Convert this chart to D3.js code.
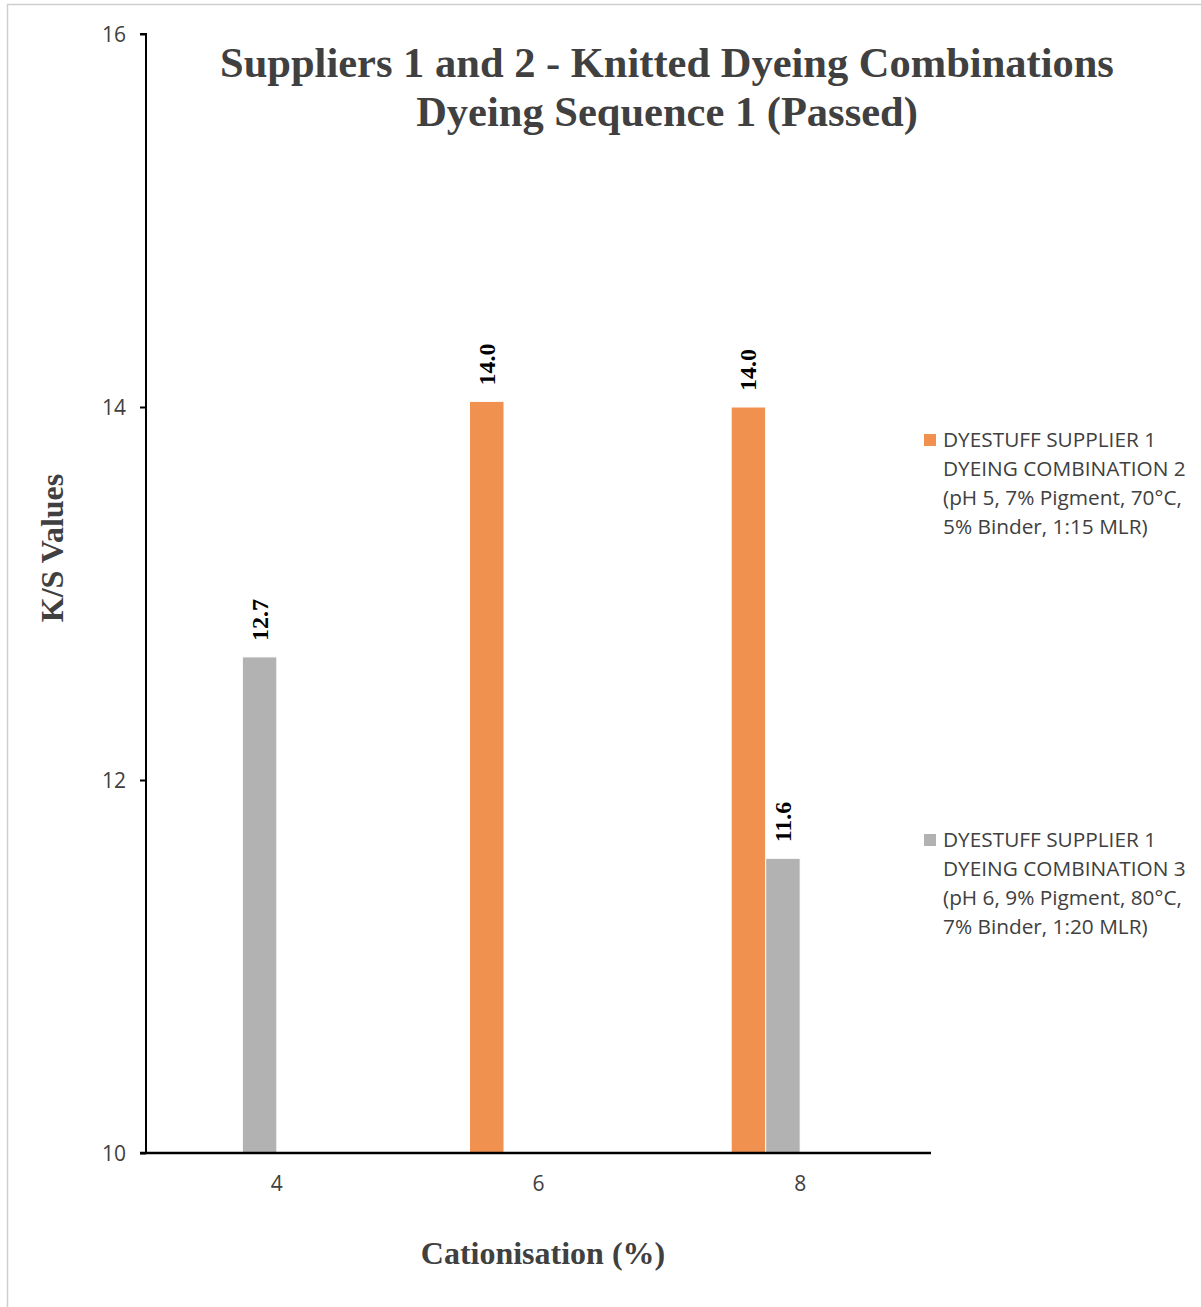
<!DOCTYPE html>
<html>
<head>
<meta charset="utf-8">
<script src="https://cdn.jsdelivr.net/npm/d3@7"></script>
<style>
  html, body { margin: 0; padding: 0; background: #fff; }
  svg { display: block; }
</style>
</head>
<body>
<svg id="chart" width="1201" height="1307"></svg>
<script>
// Cationisation levels (%) on the x axis
const categories = ["4", "6", "8"];

// K/S values per dyeing combination (null = below the axis range / not plotted)
const combination2Values = [null, 14.03, 14.00];
const combination3Values = [12.66, null, 11.58];

const seriesNames = [
  "DYESTUFF SUPPLIER 1 DYEING COMBINATION 2 (pH 5, 7% Pigment, 70°C, 5% Binder, 1:15 MLR)",
  "DYESTUFF SUPPLIER 1 DYEING COMBINATION 3 (pH 6, 9% Pigment, 80°C, 7% Binder, 1:20 MLR)"
];
const legendLines = [
  ["DYESTUFF SUPPLIER 1", "DYEING COMBINATION 2", "(pH 5, 7% Pigment, 70°C,", "5% Binder, 1:15 MLR)"],
  ["DYESTUFF SUPPLIER 1", "DYEING COMBINATION 3", "(pH 6, 9% Pigment, 80°C,", "7% Binder, 1:20 MLR)"]
];
const yTicks = [10, 12, 14, 16];
const titleLines = ["Suppliers 1 and 2 - Knitted Dyeing Combinations", "Dyeing Sequence 1 (Passed)"];

const colors = ["#f09150", "#b2b2b2"];
const serif = "'Liberation Serif', 'Times New Roman', serif";
const sans = "'Open Sans', 'Noto Sans', sans-serif";

const series = [
  { name: seriesNames[0], values: combination2Values, color: colors[0] },
  { name: seriesNames[1], values: combination3Values, color: colors[1] }
];

const svg = d3.select("#chart");

// outer chart frame
svg.append("rect")
  .attr("x", 7.5).attr("y", 4.5)
  .attr("width", 1210).attr("height", 1320)
  .attr("fill", "none").attr("stroke", "#cfcfcf").attr("stroke-width", 1.5);

const plot = { left: 146, right: 931, top: 34, bottom: 1153 };

const x = d3.scaleBand().domain(categories).range([plot.left, plot.right]).padding(0);
const y = d3.scaleLinear().domain([10, 16]).range([plot.bottom, plot.top]);

// bars sit side by side, ending at the category centre
const barW = 34.5;
const xInner = d3.scaleBand().domain(series.map(s => s.name))
  .range([x.bandwidth() / 2 - 2 * barW, x.bandwidth() / 2]).padding(0);

// y axis
const yAxis = d3.axisLeft(y).tickValues(yTicks).tickSize(6).tickFormat(d3.format("d"));
const gy = svg.append("g").attr("transform", `translate(${plot.left},0)`).call(yAxis);
gy.select(".domain").attr("stroke", "#000").attr("stroke-width", 2)
  .attr("d", `M-6,${plot.top}H0V${plot.bottom}`);
gy.selectAll(".tick line").attr("stroke", "#000").attr("stroke-width", 2);
gy.selectAll(".tick text")
  .attr("x", -20).attr("dy", "0.35em")
  .attr("fill", "#404040").style("font-family", sans).style("font-size", "21px");

// bars
series.forEach(s => {
  const g = svg.append("g");
  const data = categories.map((c, i) => ({ c, v: s.values[i] })).filter(d => d.v != null);
  g.selectAll("rect").data(data).join("rect")
    .attr("x", d => x(d.c) + xInner(s.name))
    .attr("width", xInner.bandwidth())
    .attr("y", d => y(d.v))
    .attr("height", d => y(10) - y(d.v))
    .attr("fill", s.color)
    .attr("stroke", "#fff").attr("stroke-width", 1);

  g.selectAll("text").data(data).join("text")
    .attr("transform", d => `translate(${x(d.c) + xInner(s.name) + xInner.bandwidth() / 2 + 8},${y(d.v) - 16}) rotate(-90)`)
    .attr("text-anchor", "start")
    .attr("fill", "#000")
    .style("font-family", serif).style("font-weight", "bold").style("font-size", "24px")
    .text(d => d.v.toFixed(1));
});

// x axis
const xAxis = d3.axisBottom(x).tickSize(0);
const gx = svg.append("g").attr("transform", `translate(0,${plot.bottom})`).call(xAxis);
gx.select(".domain").attr("stroke", "#000").attr("stroke-width", 2.5)
  .attr("d", `M${plot.left - 6},0H${plot.right}`);
gx.selectAll(".tick text")
  .attr("y", 23).attr("dy", "0.71em")
  .attr("fill", "#404040").style("font-family", sans).style("font-size", "21px");

// title
const title = svg.append("text")
  .attr("text-anchor", "middle").attr("fill", "#404040")
  .style("font-family", serif).style("font-weight", "bold").style("font-size", "42.5px");
titleLines.forEach((t, i) => {
  title.append("tspan").attr("x", 667).attr("y", 77 + i * 49).text(t);
});

// axis titles
svg.append("text")
  .attr("transform", `translate(63,548) rotate(-90)`)
  .attr("text-anchor", "middle").attr("fill", "#404040")
  .style("font-family", serif).style("font-weight", "bold").style("font-size", "32px")
  .text("K/S Values");

svg.append("text")
  .attr("x", 543).attr("y", 1264)
  .attr("text-anchor", "middle").attr("fill", "#404040")
  .style("font-family", serif).style("font-weight", "bold").style("font-size", "32px")
  .text("Cationisation (%)");

// legend
const legendTops = [440, 840];
series.forEach((s, i) => {
  const g = svg.append("g");
  g.append("rect")
    .attr("x", 924).attr("y", legendTops[i] - 6)
    .attr("width", 12).attr("height", 12)
    .attr("fill", s.color);
  legendLines[i].forEach((line, j) => {
    g.append("text")
      .attr("x", 943).attr("y", legendTops[i] + j * 29)
      .attr("dy", "0.35em")
      .attr("fill", "#404040")
      .style("font-family", sans).style("font-size", "20.8px")
      .text(line);
  });
});
</script>
</body>
</html>
